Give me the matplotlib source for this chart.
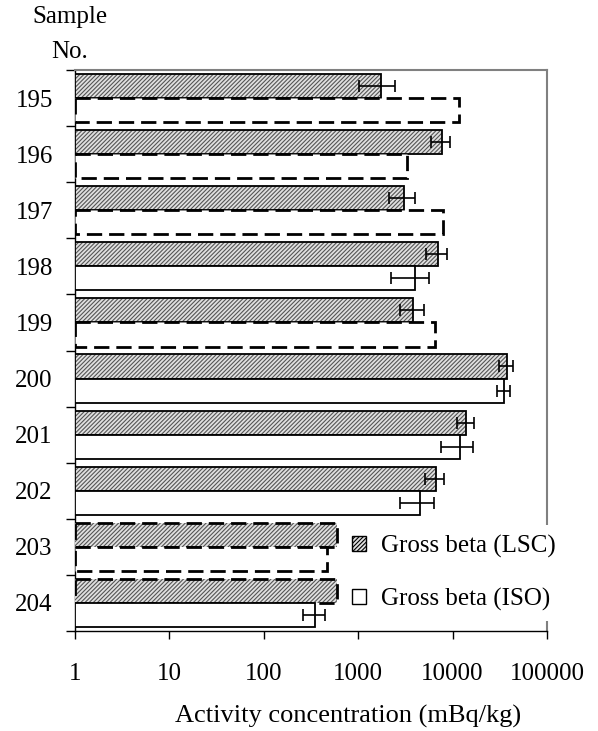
import numpy as np
import matplotlib.pyplot as plt
from matplotlib.patches import Patch

plt.rcParams['font.family'] = ['Liberation Serif', 'DejaVu Serif']
plt.rcParams['hatch.linewidth'] = 0.8

# data (mBq/kg)
samples = ['195', '196', '197', '198', '199', '200', '201', '202', '203', '204']
lsc = [1750, 7700, 3050, 6950, 3850, 37400, 14000, 6630, 600, 600]
lsc_err = [730, 1800, 930, 1710, 1100, 6700, 2800, 1570, 0, 0]
lsc_dl = [False, False, False, False, False, False, False, False, True, True]
iso = [11800, 3260, 7970, 3950, 6440, 35000, 12100, 4550, 468, 352]
iso_err = [0, 0, 0, 1720, 0, 5400, 4500, 1780, 0, 91]
iso_dl = [True, True, True, False, True, False, False, False, True, False]

fig = plt.figure(figsize=(5.98, 7.31), dpi=100)
ax = fig.add_axes([75/598, 100/731, 472/598, 561/731])

y = np.arange(len(samples))
h = 0.43
dash = (0, (5.5, 2.5))
hatch = '////////'

for i in range(len(samples)):
    yl = y[i] - h/2
    yi = y[i] + h/2
    # LSC hatched bar
    ax.barh(yl, lsc[i] - 1, left=1, height=h, color='#e0e0e0', hatch=hatch,
            edgecolor='#555555', linewidth=0, zorder=3)
    ax.barh(yl, lsc[i] - 1, left=1, height=h, fill=False, edgecolor='black',
            linewidth=2.0 if lsc_dl[i] else 1.3,
            linestyle=dash if lsc_dl[i] else '-', zorder=3.1)
    # ISO white bar
    ax.barh(yi, iso[i] - 1, left=1, height=h, color='white', edgecolor='black',
            linewidth=2.0 if iso_dl[i] else 1.3,
            linestyle=dash if iso_dl[i] else '-', zorder=3.2)
    if lsc_err[i] > 0:
        ax.errorbar(lsc[i], yl, xerr=lsc_err[i], fmt='none', ecolor='black',
                    elinewidth=1.2, capsize=4.5, capthick=1.2, zorder=4)
    if iso_err[i] > 0:
        ax.errorbar(iso[i], yi, xerr=iso_err[i], fmt='none', ecolor='black',
                    elinewidth=1.2, capsize=4.5, capthick=1.2, zorder=4)

ax.set_xscale('log')
ax.set_xlim(1, 100000)
ax.set_ylim(len(samples) - 0.5, -0.5)

ax.set_xticks([1, 10, 100, 1000, 10000, 100000])
ax.set_xticklabels(['1', '10', '100', '1000', '10000', '100000'])
ax.xaxis.set_minor_locator(plt.NullLocator())
ax.tick_params(axis='x', which='major', direction='out', length=6, width=1,
               pad=17, labelsize=18)

ax.set_yticks(y)
ax.set_yticklabels(samples)
ax.set_yticks(np.arange(len(samples) + 1) - 0.5, minor=True)
ax.tick_params(axis='y', which='major', length=0, pad=16, labelsize=18)
ax.tick_params(axis='y', which='minor', direction='out', length=6.5, width=1)

for s in ['left', 'bottom']:
    ax.spines[s].set_color('black')
    ax.spines[s].set_linewidth(1.0)
for s in ['top', 'right']:
    ax.spines[s].set_color('#808080')
    ax.spines[s].set_linewidth(1.5)
ax.spines['bottom'].set_zorder(2.9)
ax.xaxis.set_zorder(2.9)

fig.text(348/598, 1 - 716/731, 'Activity concentration (mBq/kg)', ha='center',
         va='center', fontsize=19)
fig.text(70/598, 1 - 17/731, 'Sample', ha='center', va='center', fontsize=18)
fig.text(70/598, 1 - 52/731, 'No.', ha='center', va='center', fontsize=18)

handles = [Patch(facecolor='#e0e0e0', hatch=hatch, edgecolor='black', linewidth=1),
           Patch(facecolor='white', edgecolor='black', linewidth=1)]
leg = ax.legend(handles, ['Gross beta (LSC)', 'Gross beta (ISO)'], loc='upper left',
                bbox_to_anchor=(329/598, 1 - 512/731), bbox_transform=fig.transFigure,
                fontsize=18, frameon=True, facecolor='white', edgecolor='none',
                framealpha=1, fancybox=False, borderpad=0.4, handlelength=0.58,
                handleheight=0.58, handletextpad=0.6, labelspacing=1.2)
leg.set_zorder(2.8)

fig.savefig('out.png', dpi=100)
